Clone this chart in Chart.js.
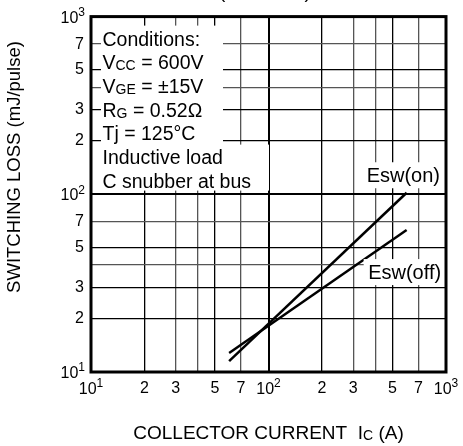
<!DOCTYPE html>
<html>
<head>
<meta charset="utf-8">
<script src="https://cdn.jsdelivr.net/npm/chart.js@4.4.1/dist/chart.umd.min.js"></script>
<style>
  html, body { margin: 0; padding: 0; background: #fff; }
  #wrap { width: 463px; height: 446px; position: relative; }
</style>
</head>
<body>
<div id="wrap"><canvas id="lossChart"></canvas></div>
<script>
// ---------- Data ----------
const collectorCurrent = [60, 600];          // Ic (A)
const eswOn  = [11.5, 102];                  // mJ/pulse
const eswOff = [12.8, 63];                   // mJ/pulse

const gridValues = [10, 20, 30, 40, 50, 70, 100, 200, 300, 400, 500, 700, 1000];
const tickText = { 20: '2', 30: '3', 50: '5', 70: '7', 200: '2', 300: '3', 500: '5', 700: '7' };
const decadeText = { 10: '1', 100: '2', 1000: '3' };   // exponents of 10

const conditions = [
  [['Conditions:']],
  [['V'], ['CC', 1], [' = 600V']],
  [['V'], ['GE', 1], [' = ±15V']],
  [['R'], ['G', 1], [' = 0.52Ω']],
  [['Tj = 125°C']],
  [['Inductive load']],
  [['C snubber at bus']],
];

const FONT = '"Liberation Sans", Arial, Helvetica, sans-serif';
const isDecade = (v) => v === 10 || v === 100 || v === 1000;

// ---------- Helpers ----------
function richWidth(ctx, parts, size) {
  let w = 0;
  parts.forEach(([t, s]) => {
    ctx.font = `${s ? Math.round(size * 0.74) : size}px ${FONT}`;
    w += ctx.measureText(t).width;
  });
  return w;
}
function drawRich(ctx, parts, x, y, size, align) {
  const w = richWidth(ctx, parts, size);
  let cx = align === 'center' ? x - w / 2 : align === 'right' ? x - w : x;
  ctx.textAlign = 'left';
  ctx.textBaseline = 'alphabetic';
  parts.forEach(([t, s]) => {
    ctx.font = `${s ? Math.round(size * 0.74) : size}px ${FONT}`;
    ctx.fillText(t, cx, y + (s ? 1 : 0));
    cx += ctx.measureText(t).width;
  });
}
// "10" with a raised exponent
function drawPow(ctx, exp, x, y, size, align) {
  ctx.font = `${size}px ${FONT}`;
  const wb = ctx.measureText('10').width;
  const ss = Math.round(size * 0.72);
  ctx.font = `${ss}px ${FONT}`;
  const we = ctx.measureText(exp).width;
  const w = wb + we;
  const x0 = align === 'center' ? x - w / 2 : x - w;
  ctx.textAlign = 'left';
  ctx.textBaseline = 'alphabetic';
  ctx.font = `${size}px ${FONT}`;
  ctx.fillText('10', x0, y);
  ctx.font = `${ss}px ${FONT}`;
  ctx.fillText(exp, x0 + wb, y - size * 0.42);
}

// ---------- Custom drawing: frame, labels, condition box ----------
const decorPlugin = {
  id: 'decor',
  afterDraw(chart) {
    const { ctx, chartArea: a, scales } = chart;
    const xs = scales.x, ys = scales.y;
    ctx.save();
    ctx.fillStyle = '#fff';

    // condition box (white behind the text, hides the grid)
    const left = a.left + 11;
    ctx.fillRect(left - 1, a.top + 9, 122, 128);
    ctx.fillRect(left - 1, a.top + 128, 168, 46);

    // curve label boxes
    const onX = xs.getPixelForValue(575), onY = ys.getPixelForValue(128);
    const offX = xs.getPixelForValue(585), offY = ys.getPixelForValue(36.5);
    ctx.fillRect(onX - 39, onY - 13, 78, 26);
    ctx.fillRect(offX - 41, offY - 13, 82, 26);

    ctx.fillStyle = '#000';
    conditions.forEach((parts, i) => {
      drawRich(ctx, parts, left + 0.5, a.top + 29 + i * 23.7, 19.5, 'left');
    });
    drawRich(ctx, [['Esw(on)']], onX, onY + 7, 20, 'center');
    drawRich(ctx, [['Esw(off)']], offX, offY + 7, 20, 'center');

    // frame
    ctx.strokeStyle = '#000';
    ctx.lineWidth = 3;
    ctx.strokeRect(a.left, a.top, a.right - a.left, a.bottom - a.top);

    // decade tick labels (10^n), placed through the scales
    gridValues.filter(isDecade).forEach((v) => {
      drawPow(ctx, decadeText[v], a.left - 6, ys.getPixelForValue(v) + 6, 16, 'right');
      drawPow(ctx, decadeText[v], xs.getPixelForValue(v), a.bottom + 22, 16, 'center');
    });

    // axis titles
    drawRich(ctx, [['COLLECTOR CURRENT  I'], ['C', 1], [' (A)']], (a.left + a.right) / 2, 439, 19, 'center');
    ctx.translate(20, 167);
    ctx.rotate(-Math.PI / 2);
    drawRich(ctx, [['SWITCHING LOSS (mJ/pulse)']], 0, 0, 18.5, 'center');
    ctx.restore();

    // cut-off title at the very top
    ctx.save();
    ctx.fillStyle = '#000';
    drawRich(ctx, [['(TYPICAL)']], 265, -2, 19, 'center');
    ctx.restore();
  },
};

// ---------- Axis builders ----------
const greyX = [30, 40, 70, 300, 400, 700];
const greyY = [40, 70, 400, 700];
function logAxis(pos) {
  const horizontal = pos === 'bottom';
  return {
    type: 'logarithmic',
    position: pos,
    min: 10,
    max: 1000,
    afterBuildTicks: (s) => { s.ticks = gridValues.map((v) => ({ value: v })); },
    afterFit: (s) => { if (horizontal) s.height = 74; else s.width = 91; },
    border: { display: false },
    grid: {
      drawTicks: false,
      color: (c) => {
        const v = c.tick ? c.tick.value : 0;
        if (isDecade(v)) return '#000';
        return (horizontal ? greyX : greyY).includes(v) ? '#555' : '#000';
      },
      lineWidth: (c) => (c.tick && isDecade(c.tick.value) ? 2 : 1.3),
    },
    ticks: {
      autoSkip: false,
      maxRotation: 0,
      padding: 7,
      color: '#000',
      font: { family: FONT, size: 16 },
      callback: (v) => tickText[v] || '',
    },
  };
}

// ---------- Chart ----------
function init() {
  const ctx = document.getElementById('lossChart').getContext('2d');
  const pts = (ys) => collectorCurrent.map((x, i) => ({ x, y: ys[i] }));
  new Chart(ctx, {
    type: 'line',
    data: {
      datasets: [
        { label: 'Esw(on)', data: pts(eswOn), borderColor: '#000', borderWidth: 2.5, pointRadius: 0, tension: 0 },
        { label: 'Esw(off)', data: pts(eswOff), borderColor: '#000', borderWidth: 2.5, pointRadius: 0, tension: 0 },
      ],
    },
    options: {
      responsive: true, maintainAspectRatio: false, animation: false,
      layout: { padding: { left: 0, right: 17, top: 16, bottom: 0 } },
      plugins: { legend: { display: false }, tooltip: { enabled: false } },
      scales: { x: logAxis('bottom'), y: logAxis('left') },
    },
    plugins: [decorPlugin],
  });
}

document.addEventListener('DOMContentLoaded', init);
</script>
</body>
</html>
